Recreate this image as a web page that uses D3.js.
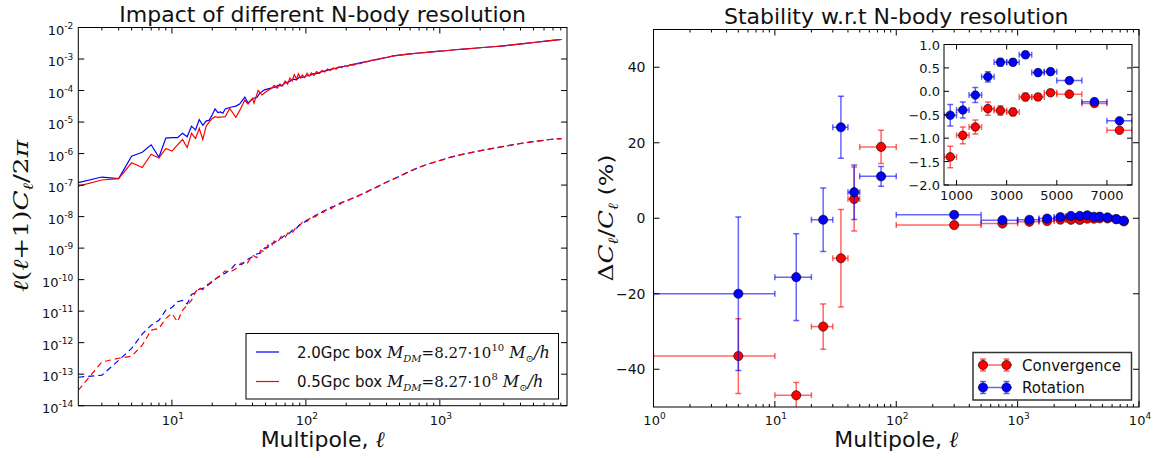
<!DOCTYPE html>
<html>
<head>
<meta charset="utf-8">
<script src="https://cdn.jsdelivr.net/npm/d3@7"></script>
<style>
  body { margin: 0; background: #fff; }
  text { font-family: "DejaVu Sans", sans-serif; fill: #111; }
</style>
</head>
<body>
<svg id="fig" width="1159" height="458"></svg>
<script>
// ---------------- Left panel: power spectra (ℓ, ℓ(ℓ+1)Cℓ/2π) ----------------
const solidBlue = [
  [2,1.2e-7],[3,1.8e-7],[4,1.6e-7],[5,8.3e-7],[6,1.1e-6],[7,1.9e-6],[8,7.6e-7],[9,3.1e-6],[10,3.2e-6],
  [11,3.2e-6],[12,4.4e-6],[13,3.4e-6],[14,7.4e-6],[15,5.6e-6],[16,1.2e-5],[17,7.9e-6],[18,1.07e-5],
  [19,1.15e-5],[20,1.7e-5],[21,2.6e-5],[22,2.0e-5],[23,2.1e-5],[24,1.9e-5],[25,2.6e-5],[27,2.9e-5],
  [28,3.0e-5],[30,3.2e-5],[32,3.7e-5],[35,6.2e-5],[37,4.0e-5],[40,5.6e-5],[43,6.0e-5],[45,8.0e-5],
  [49,1.05e-4],[54,1.17e-4],[58,1.25e-4],[62,1.45e-4],[66,1.4e-4],[70,1.75e-4],[75,1.9e-4],[80,2.3e-4],
  [85,2.2e-4],[90,2.7e-4],[95,2.6e-4],[100,2.9e-4],[107,3.0e-4],[114,3.4e-4],[122,3.5e-4],[130,3.9e-4],
  [140,4.2e-4],[150,4.6e-4],[162,4.9e-4],[175,5.4e-4],[190,5.8e-4],[205,6.1e-4],[220,6.6e-4],[240,7.1e-4],
  [260,7.7e-4],[290,8.5e-4],[320,9.3e-4],[360,1.03e-3],[400,1.12e-3],[450,1.25e-3],[520,1.36e-3],
  [600,1.45e-3],[700,1.55e-3],[800,1.62e-3],[950,1.74e-3],[1100,1.83e-3],[1300,1.97e-3],[1500,2.07e-3],
  [1800,2.2e-3],[2100,2.32e-3],[2500,2.45e-3],[3000,2.63e-3],[3600,2.85e-3],[4400,3.15e-3],[5200,3.4e-3],
  [6200,3.7e-3],[7200,3.95e-3],[8100,4.17e-3]
];
const solidRed = [
  [2,9.3e-8],[3,1.45e-7],[4,1.6e-7],[5,5.1e-7],[6,3.6e-7],[7,9.5e-7],[8,7.2e-7],[9,1.45e-6],[10,1.2e-6],
  [11,1.9e-6],[12,2.8e-6],[13,1.55e-6],[14,4.4e-6],[15,3.0e-6],[16,6.3e-6],[17,2.8e-6],[18,7.4e-6],
  [19,1.02e-5],[20,1.3e-5],[21,1.48e-5],[22,1.4e-5],[24,1.45e-5],[25,1.48e-5],[27,2.7e-5],[30,1.4e-5],
  [32,2.3e-5],[35,5.0e-5],[37,3.7e-5],[40,5.6e-5],[41,4.0e-5],[44,1.0e-4],[47,7.2e-5],[51,9.5e-5],
  [55,1.15e-4],[58,1.45e-4],[61,1.2e-4],[64,1.6e-4],[67,1.4e-4],[70,2.0e-4],[73,1.6e-4],[76,2.5e-4],
  [79,2.0e-4],[82,3.2e-4],[85,2.3e-4],[88,3.4e-4],[91,2.5e-4],[94,3.1e-4],[98,2.6e-4],[102,3.5e-4],
  [106,2.9e-4],[110,3.6e-4],[115,3.0e-4],[120,4.0e-4],[126,3.5e-4],[132,4.3e-4],[138,3.9e-4],[145,4.8e-4],
  [152,4.3e-4],[160,5.2e-4],[168,4.8e-4],[176,5.6e-4],[185,5.3e-4],[195,6.1e-4],[205,5.8e-4],[215,6.6e-4],
  [228,6.4e-4],[240,7.2e-4],[255,7.1e-4],[270,7.9e-4],[290,8.2e-4],[310,9.0e-4],[340,9.6e-4],[370,1.06e-3],
  [400,1.12e-3],[450,1.25e-3],[520,1.36e-3],[600,1.45e-3],[700,1.55e-3],[800,1.62e-3],[950,1.74e-3],
  [1100,1.83e-3],[1300,1.97e-3],[1500,2.07e-3],[1800,2.2e-3],[2100,2.32e-3],[2500,2.45e-3],[3000,2.63e-3],
  [3600,2.85e-3],[4400,3.15e-3],[5200,3.4e-3],[6200,3.7e-3],[7200,3.95e-3],[8100,4.17e-3]
];
const dashedBlue = [
  [2,8.0e-14],[3,9.3e-14],[4,2.75e-13],[5,6.6e-13],[6,1.86e-12],[7,3.6e-12],[8,5.1e-12],[9,1.07e-11],
  [10,1.3e-11],[11,2.0e-11],[12,2.2e-11],[13,1.7e-11],[14,3.4e-11],[15,3.8e-11],[16,5.0e-11],[17,5.3e-11],
  [18,6.0e-11],[20,8.5e-11],[22,1.2e-10],[25,1.6e-10],[28,2.3e-10],[30,3.2e-10],[33,3.0e-10],[36,4.2e-10],
  [40,5.3e-10],[43,6.5e-10],[46,7.0e-10],[49,1.0e-9],[52,1.05e-9],[55,1.4e-9],[58,1.45e-9],[62,1.9e-9],
  [66,2.1e-9],[70,2.6e-9],[75,2.9e-9],[80,3.9e-9],[85,4.2e-9],[90,5.6e-9],[96,6.3e-9],[102,7.8e-9],
  [110,8.8e-9],[118,1.1e-8],[126,1.2e-8],[135,1.5e-8],[145,1.65e-8],[155,2.0e-8],[168,2.2e-8],[180,2.7e-8],
  [195,3.0e-8],[210,3.5e-8],[228,3.9e-8],[245,4.6e-8],[265,5.2e-8],[285,6.2e-8],[310,7.2e-8],[340,8.8e-8],
  [378,1.1e-7],[420,1.37e-7],[480,1.75e-7],[560,2.4e-7],[670,3.4e-7],[800,4.5e-7],[1000,6.0e-7],
  [1189,7.6e-7],[1500,9.6e-7],[2106,1.29e-6],[2800,1.6e-6],[3740,2.0e-6],[5000,2.4e-6],[6623,2.8e-6],
  [8100,3.0e-6]
];
const dashedRed = [
  [2,3.1e-14],[3,2.45e-13],[4,3.2e-13],[5,3.7e-13],[6,8.3e-13],[7,2.5e-12],[8,2.8e-12],[9,5.9e-12],
  [10,8.5e-12],[11,4.6e-12],[12,1.07e-11],[13,1.55e-11],[14,2.2e-11],[15,4.1e-11],[16,5.6e-11],[17,4.8e-11],
  [18,6.8e-11],[19,7.5e-11],[20,9.5e-11],[22,1.15e-10],[25,1.9e-10],[27,1.7e-10],[30,2.2e-10],[33,3.4e-10],
  [36,3.0e-10],[40,6.0e-10],[43,5.0e-10],[46,8.5e-10],[49,7.5e-10],[52,1.25e-9],[55,1.1e-9],[58,1.7e-9],
  [62,1.6e-9],[66,2.5e-9],[70,2.2e-9],[75,3.4e-9],[80,3.2e-9],[85,4.8e-9],[90,5.2e-9],[96,7.5e-9],
  [102,7.0e-9],[110,1.0e-8],[118,9.8e-9],[126,1.35e-8],[135,1.35e-8],[145,1.8e-8],[155,1.8e-8],[168,2.4e-8],
  [180,2.5e-8],[195,3.2e-8],[210,3.3e-8],[228,4.2e-8],[245,4.4e-8],[265,5.5e-8],[285,6.0e-8],[310,7.4e-8],
  [340,8.6e-8],[378,1.1e-7],[420,1.35e-7],[480,1.75e-7],[560,2.4e-7],[670,3.4e-7],[800,4.5e-7],
  [1000,6.0e-7],[1189,7.6e-7],[1500,9.6e-7],[2106,1.29e-6],[2800,1.6e-6],[3740,2.0e-6],[5000,2.4e-6],
  [6623,2.8e-6],[8100,3.0e-6]
];
const leftYTickExps = [-2,-3,-4,-5,-6,-7,-8,-9,-10,-11,-12,-13,-14];
const leftXTickExps = [1,2,3];
const legendLeftLabels = [
  { box: "2.0Gpc box ", mexp: "10" },
  { box: "0.5Gpc box ", mexp: "8" }
];

// ---------------- Right panel: relative difference per ℓ bin ----------------
const binCentre = [5, 15, 25, 35, 45, 75, 300, 750, 1250, 1750, 2250, 2750, 3250, 3750, 4250, 4750, 5500, 6500, 7500];
const binLow    = [0, 10, 20, 30, 40, 50, 100, 500, 1000, 1500, 2000, 2500, 3000, 3500, 4000, 4500, 5000, 6000, 7000];
const binHigh   = [10, 20, 30, 40, 50, 100, 500, 1000, 1500, 2000, 2500, 3000, 3500, 4000, 4500, 5000, 6000, 7000, 8000];
const convergence    = [-36.5, -46.9, -28.7, -10.6, 5.1, 18.9, -1.8, -1.40, -0.94, -0.76, -0.37, -0.41, -0.44, -0.12, -0.12, -0.03, -0.06, -0.26, -0.83];
const convergenceErr = [9.9, 3.4, 6.0, 12.9, 8.5, 4.4, 0.5, 0.23, 0.18, 0.15, 0.14, 0.10, 0.08, 0.08, 0.07, 0.06, 0.05, 0.05, 0.04];
const rotation       = [-20.0, -15.6, -0.4, 24.1, 6.9, 11.1, 0.9, -0.51, -0.40, -0.08, 0.31, 0.62, 0.62, 0.78, 0.40, 0.42, 0.23, -0.22, -0.63];
const rotationErr    = [20.3, 11.5, 8.4, 8.2, 7.2, 2.6, 0.5, 0.23, 0.17, 0.16, 0.11, 0.08, 0.07, 0.07, 0.06, 0.06, 0.05, 0.05, 0.04];
const rightYTicks = [-40, -20, 0, 20, 40];
const rightXTickExps = [0, 1, 2, 3, 4];
const insetYTicks = [1.0, 0.5, 0.0, -0.5, -1.0, -1.5, -2.0];
const insetXTicks = [1000, 3000, 5000, 7000];
const seriesNames = ["Convergence", "Rotation"];

// ---------------- layout ----------------
const svg = d3.select("#fig");
const BLUE = "#0000ff", RED = "#ff0000";
const MATH = "'DejaVu Serif', serif";

const L = { x0: 78.3, x1: 567, y0: 27.5, y1: 405.7 };
const R = { x0: 653.5, x1: 1139, y0: 29.5, y1: 407 };
const I = { x0: 944, x1: 1132, y0: 44.5, y1: 185 };

const xL = d3.scaleLog().domain([2, 8900]).range([L.x0, L.x1]);
const yL = d3.scaleLog().domain([1e-14, 1e-2]).range([L.y1, L.y0]);
const xR = d3.scaleLog().domain([1, 1e4]).range([R.x0, R.x1]);
const yR = d3.scaleLinear().domain([-50, 50]).range([R.y1, R.y0]);
const xI = d3.scaleLinear().domain([500, 8000]).range([I.x0, I.x1]);
const yI = d3.scaleLinear().domain([-2, 1]).range([I.y1, I.y0]);

const defs = svg.append("defs");
function clip(id, b) {
  defs.append("clipPath").attr("id", id).append("rect")
    .attr("x", b.x0).attr("y", b.y0).attr("width", b.x1 - b.x0).attr("height", b.y1 - b.y0);
  return "url(#" + id + ")";
}

// inward ticks on all four sides
function xTicks(g, b, xs, len) {
  xs.forEach(x => {
    g.append("line").attr("x1", x).attr("x2", x).attr("y1", b.y1).attr("y2", b.y1 - len);
    g.append("line").attr("x1", x).attr("x2", x).attr("y1", b.y0).attr("y2", b.y0 + len);
  });
}
function yTicks(g, b, ys, len) {
  ys.forEach(y => {
    g.append("line").attr("y1", y).attr("y2", y).attr("x1", b.x0).attr("x2", b.x0 + len);
    g.append("line").attr("y1", y).attr("y2", y).attr("x1", b.x1).attr("x2", b.x1 - len);
  });
}
function frame(g, b) {
  g.append("rect").attr("x", b.x0).attr("y", b.y0).attr("width", b.x1 - b.x0).attr("height", b.y1 - b.y0)
    .attr("fill", "none").attr("stroke", "#000").attr("stroke-width", 1);
}
function powLabel(t, exp) {
  t.append("tspan").text("10");
  t.append("tspan").attr("dy", -6).attr("font-size", 9).text(exp);
}
function minorLogTicks(scale, lo, hi) {
  const out = [];
  const d = scale.domain();
  for (let e = lo; e < hi; e++) for (let m = 2; m <= 9; m++) {
    const v = m * Math.pow(10, e);
    if (v > d[0] && v < d[1]) out.push(scale(v));
  }
  return out;
}
function mathSpan(t, s, opts) {
  const sp = t.append("tspan").attr("font-family", MATH).text(s);
  if (opts.italic) sp.attr("font-style", "italic");
  if (opts.size) sp.attr("font-size", opts.size);
  if (opts.dy) sp.attr("dy", opts.dy);
  return sp;
}

// ================= LEFT PANEL =================
const gl = svg.append("g");
gl.append("text").attr("x", (L.x0 + L.x1) / 2).attr("y", 22).attr("text-anchor", "middle")
  .attr("font-size", 22).text("Impact of different N-body resolution");

const line = d3.line().x(d => xL(d[0])).y(d => yL(d[1]));
const curves = gl.append("g").attr("clip-path", clip("clipL", L)).attr("fill", "none").attr("stroke-width", 1.2);
curves.append("path").datum(solidBlue).attr("d", line).attr("stroke", BLUE);
curves.append("path").datum(dashedBlue).attr("d", line).attr("stroke", BLUE).attr("stroke-dasharray", "6,4");
curves.append("path").datum(solidRed).attr("d", line).attr("stroke", RED);
curves.append("path").datum(dashedRed).attr("d", line).attr("stroke", RED).attr("stroke-dasharray", "6,4");

const tl = gl.append("g").attr("stroke", "#000").attr("stroke-width", 1);
xTicks(tl, L, leftXTickExps.map(e => xL(Math.pow(10, e))), 6);
xTicks(tl, L, minorLogTicks(xL, 0, 4), 3);
yTicks(tl, L, leftYTickExps.map(e => yL(Math.pow(10, e))), 6);
frame(gl, L);

leftYTickExps.forEach(e => {
  const t = gl.append("text").attr("x", L.x0 - 5).attr("y", yL(Math.pow(10, e)) + 7)
    .attr("text-anchor", "end").attr("font-size", 13);
  powLabel(t, "-" + Math.abs(e));
});
leftXTickExps.forEach(e => {
  const t = gl.append("text").attr("x", xL(Math.pow(10, e)) + 1).attr("y", 425)
    .attr("text-anchor", "middle").attr("font-size", 13);
  powLabel(t, String(e));
});

// x label
(function () {
  const t = gl.append("text").attr("x", (L.x0 + L.x1) / 2).attr("y", 447).attr("text-anchor", "middle").attr("font-size", 22);
  t.append("tspan").text("Multipole, ");
  mathSpan(t, "ℓ", { italic: true, size: 22 });
})();
// y label
(function () {
  const t = gl.append("text").attr("transform", "translate(28,216) rotate(-90)").attr("text-anchor", "middle")
    .attr("font-size", 21).attr("textLength", 152).attr("lengthAdjust", "spacingAndGlyphs");
  mathSpan(t, "ℓ", { italic: true });
  mathSpan(t, "(", {});
  mathSpan(t, "ℓ", { italic: true });
  mathSpan(t, "+1)", {});
  mathSpan(t, "C", { italic: true });
  mathSpan(t, "ℓ", { italic: true, size: 14, dy: 5 });
  mathSpan(t, "/2", { dy: -5 });
  mathSpan(t, "π", { italic: true });
})();

// legend
(function () {
  const lg = gl.append("g");
  lg.append("rect").attr("x", 246).attr("y", 333.5).attr("width", 312.5).attr("height", 65.5)
    .attr("fill", "#fff").attr("stroke", "#000").attr("stroke-width", 1);
  [BLUE, RED].forEach((c, i) => {
    const y = 352 + i * 29.5;
    lg.append("line").attr("x1", 256).attr("x2", 279).attr("y1", y).attr("y2", y).attr("stroke", c).attr("stroke-width", 1.2);
    const t = lg.append("text").attr("x", 297).attr("y", y + 5.5).attr("font-size", 15);
    t.append("tspan").text(legendLeftLabels[i].box);
    mathSpan(t, "M", { italic: true, size: 16 });
    mathSpan(t, "DM", { italic: true, size: 10, dy: 4 });
    mathSpan(t, "=8.27·10", { size: 15, dy: -4 });
    mathSpan(t, legendLeftLabels[i].mexp, { size: 10, dy: -7 });
    mathSpan(t, " M", { italic: true, size: 16, dy: 7 });
    mathSpan(t, "⊙", { size: 10, dy: 4 });
    mathSpan(t, "/h", { italic: true, size: 16, dy: -4 });
  });
})();

// ================= RIGHT PANEL =================
const gr = svg.append("g");
gr.append("text").attr("x", (R.x0 + R.x1) / 2).attr("y", 24).attr("text-anchor", "middle")
  .attr("font-size", 22).text("Stability w.r.t N-body resolution");

const pts = binCentre.map((c, i) => ({
  c, lo: Math.max(binLow[i], 1), hi: binHigh[i],
  conv: convergence[i], convErr: convergenceErr[i],
  rot: rotation[i], rotErr: rotationErr[i]
}));

function errorSeries(g, data, xs, ys, key, errKey, color, r, cap) {
  const bars = g.append("g").attr("stroke", color).attr("stroke-opacity", 0.6).attr("stroke-width", 1.5);
  data.forEach(d => {
    const y = ys(d[key]), yt = ys(d[key] + d[errKey]), yb = ys(d[key] - d[errKey]);
    const xa = xs(d.lo), xb = xs(d.hi), x = xs(d.c);
    bars.append("line").attr("x1", xa).attr("x2", xb).attr("y1", y).attr("y2", y);
    bars.append("line").attr("x1", xa).attr("x2", xa).attr("y1", y - cap).attr("y2", y + cap);
    bars.append("line").attr("x1", xb).attr("x2", xb).attr("y1", y - cap).attr("y2", y + cap);
    bars.append("line").attr("x1", x).attr("x2", x).attr("y1", yt).attr("y2", yb);
    bars.append("line").attr("x1", x - cap).attr("x2", x + cap).attr("y1", yt).attr("y2", yt);
    bars.append("line").attr("x1", x - cap).attr("x2", x + cap).attr("y1", yb).attr("y2", yb);
  });
  g.append("g").selectAll("circle").data(data).join("circle")
    .attr("cx", d => xs(d.c)).attr("cy", d => ys(d[key])).attr("r", r)
    .attr("fill", color).attr("stroke", "#000").attr("stroke-width", 0.6);
}

const mainPts = gr.append("g").attr("clip-path", clip("clipR", R));
errorSeries(mainPts, pts, xR, yR, "conv", "convErr", RED, 4.6, 3);
errorSeries(mainPts, pts, xR, yR, "rot", "rotErr", BLUE, 4.6, 3);

const tr = gr.append("g").attr("stroke", "#000").attr("stroke-width", 1);
xTicks(tr, R, rightXTickExps.map(e => xR(Math.pow(10, e))), 6);
xTicks(tr, R, minorLogTicks(xR, 0, 4), 3);
yTicks(tr, R, rightYTicks.map(v => yR(v)), 6);
frame(gr, R);

rightYTicks.forEach(v => {
  gr.append("text").attr("x", R.x0 - 8).attr("y", yR(v) + 5).attr("text-anchor", "end").attr("font-size", 14)
    .text(v < 0 ? "\u2212" + Math.abs(v) : String(v));
});
rightXTickExps.forEach(e => {
  const t = gr.append("text").attr("x", xR(Math.pow(10, e)) + 1).attr("y", 425)
    .attr("text-anchor", "middle").attr("font-size", 13);
  powLabel(t, String(e));
});
(function () {
  const t = gr.append("text").attr("x", (R.x0 + R.x1) / 2).attr("y", 447).attr("text-anchor", "middle").attr("font-size", 22);
  t.append("tspan").text("Multipole, ");
  mathSpan(t, "ℓ", { italic: true, size: 22 });
})();
(function () {
  const t = gr.append("text").attr("transform", "translate(613,218) rotate(-90)").attr("text-anchor", "middle")
    .attr("font-size", 21).attr("textLength", 127).attr("lengthAdjust", "spacingAndGlyphs");
  mathSpan(t, "Δ", {});
  mathSpan(t, "C", { italic: true });
  mathSpan(t, "ℓ", { italic: true, size: 14, dy: 5 });
  mathSpan(t, "/", { dy: -5 });
  mathSpan(t, "C", { italic: true });
  mathSpan(t, "ℓ", { italic: true, size: 14, dy: 5 });
  t.append("tspan").attr("dy", -5).attr("font-size", 20).text(" (%)");
})();

// legend
(function () {
  const lg = gr.append("g");
  lg.append("rect").attr("x", 973).attr("y", 352.5).attr("width", 158.5).attr("height", 47.5)
    .attr("fill", "#fff").attr("stroke", "#333").attr("stroke-width", 1.5);
  [[RED, 0], [BLUE, 1]].forEach(([c, i]) => {
    const y = 365 + i * 22.5;
    const eb = lg.append("g").attr("stroke", c).attr("stroke-opacity", 0.6).attr("stroke-width", 1.5);
    eb.append("line").attr("x1", 978).attr("x2", 1012).attr("y1", y).attr("y2", y);
    [983, 1006.5].forEach(x => {
      eb.append("line").attr("x1", x).attr("x2", x).attr("y1", y - 6).attr("y2", y + 6);
      eb.append("line").attr("x1", x - 3).attr("x2", x + 3).attr("y1", y - 6).attr("y2", y - 6);
      eb.append("line").attr("x1", x - 3).attr("x2", x + 3).attr("y1", y + 6).attr("y2", y + 6);
      lg.append("circle").attr("cx", x).attr("cy", y).attr("r", 4.6).attr("fill", c).attr("stroke", "#000").attr("stroke-width", 0.6);
    });
    lg.append("text").attr("x", 1022).attr("y", y + 5.5).attr("font-size", 15).text(seriesNames[i]);
  });
})();

// ================= INSET =================
const gi = svg.append("g");
gi.append("rect").attr("x", I.x0).attr("y", I.y0).attr("width", I.x1 - I.x0).attr("height", I.y1 - I.y0).attr("fill", "#fff");
const insetPts = pts.filter(d => d.c >= 500);
const inner = gi.append("g").attr("clip-path", clip("clipI", I));
errorSeries(inner, insetPts, xI, yI, "conv", "convErr", RED, 4.3, 3);
errorSeries(inner, insetPts, xI, yI, "rot", "rotErr", BLUE, 4.3, 3);
const ti = gi.append("g").attr("stroke", "#000").attr("stroke-width", 1);
xTicks(ti, I, insetXTicks.map(v => xI(v)), 5);
yTicks(ti, I, insetYTicks.map(v => yI(v)), 5);
frame(gi, I);
insetYTicks.forEach(v => {
  gi.append("text").attr("x", I.x0 - 4).attr("y", yI(v) + 5).attr("text-anchor", "end").attr("font-size", 13)
    .text((v < 0 ? "\u2212" : "") + Math.abs(v).toFixed(1));
});
insetXTicks.forEach(v => {
  gi.append("text").attr("x", xI(v)).attr("y", 200).attr("text-anchor", "middle").attr("font-size", 13).text(String(v));
});
</script>
</body>
</html>
